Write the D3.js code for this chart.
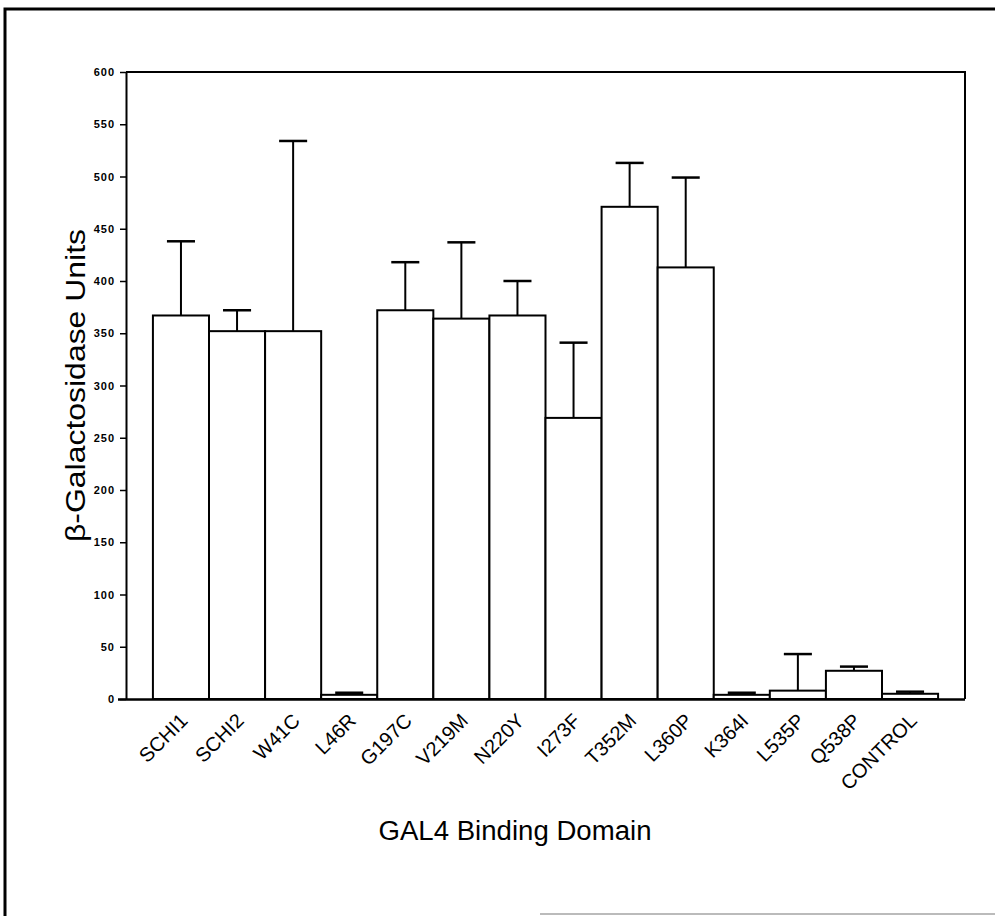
<!DOCTYPE html>
<html>
<head>
<meta charset="utf-8">
<script src="https://cdn.jsdelivr.net/npm/d3@7"></script>
<style>
  body { margin: 0; background: #fff; }
  svg { display: block; }
</style>
</head>
<body>
<div id="chart"></div>
<script>
// Values
const categories = ['SCHI1', 'SCHI2', 'W41C', 'L46R', 'G197C', 'V219M', 'N220Y',
                    'I273F', 'T352M', 'L360P', 'K364I', 'L535P', 'Q538P', 'CONTROL'];
const means = [367, 352, 352, 4, 372, 364, 367, 269, 471, 413, 4, 8, 27, 5];
const errTops = [438, 372, 534, 6, 418, 437, 400, 341, 513, 499, 6, 43, 31, 7];
const yTicks = [0, 50, 100, 150, 200, 250, 300, 350, 400, 450, 500, 550, 600];

const width = 995, height = 916;
const margin = { top: 72, right: 30, bottom: 217, left: 126 };
const FONT = '"Liberation Sans", Arial, sans-serif';

const data = categories.map((c, i) => ({ name: c, mean: means[i], top: errTops[i] }));

const svg = d3.select('#chart')
    .append('svg')
    .attr('width', width)
    .attr('height', height);

// Outer frame
svg.append('path')
    .attr('d', `M5,916 L5,9 L995,9`)
    .attr('fill', 'none')
    .attr('stroke', '#000')
    .attr('stroke-width', 3);
svg.append('line')
    .attr('x1', 540).attr('x2', 995)
    .attr('y1', 914).attr('y2', 914)
    .attr('stroke', '#bbb')
    .attr('stroke-width', 2);

const x = d3.scaleBand()
    .domain(categories)
    .range([margin.left, width - margin.right])
    .paddingInner(0)
    .paddingOuter(0.48);

const y = d3.scaleLinear()
    .domain([0, 600])
    .range([height - margin.bottom, margin.top]);

const x0 = x.range()[0], x1 = x.range()[1];
const y0 = y(0), yTop = y(600);

// Plot box (top and right edges)
svg.append('path')
    .attr('d', `M${x0},${yTop} L${x1},${yTop} L${x1},${y0}`)
    .attr('fill', 'none')
    .attr('stroke', '#000')
    .attr('stroke-width', 2);

// Error bars (upper only)
const capW = x.bandwidth() / 2;
const err = svg.append('g').attr('class', 'errors');
err.selectAll('line.stem')
    .data(data)
    .join('line')
    .attr('class', 'stem')
    .attr('x1', d => x(d.name) + x.bandwidth() / 2)
    .attr('x2', d => x(d.name) + x.bandwidth() / 2)
    .attr('y1', d => y(d.mean))
    .attr('y2', d => y(d.top))
    .attr('stroke', '#000')
    .attr('stroke-width', 2);
err.selectAll('line.cap')
    .data(data)
    .join('line')
    .attr('class', 'cap')
    .attr('x1', d => x(d.name) + x.bandwidth() / 2 - capW / 2)
    .attr('x2', d => x(d.name) + x.bandwidth() / 2 + capW / 2)
    .attr('y1', d => y(d.top))
    .attr('y2', d => y(d.top))
    .attr('stroke', '#000')
    .attr('stroke-width', 2.5);

// Bars
svg.append('g')
    .selectAll('rect')
    .data(data)
    .join('rect')
    .attr('x', d => x(d.name))
    .attr('y', d => y(d.mean))
    .attr('width', x.bandwidth())
    .attr('height', d => y0 - y(d.mean))
    .attr('fill', '#fff')
    .attr('stroke', '#000')
    .attr('stroke-width', 2);

// Y axis
const yAxis = svg.append('g')
    .attr('transform', `translate(${x0},0)`)
    .call(d3.axisLeft(y).tickValues(yTicks).tickSize(6).tickPadding(5).tickSizeOuter(0));
yAxis.select('.domain').attr('stroke-width', 2);
yAxis.selectAll('.tick line').attr('stroke-width', 1.5);
yAxis.selectAll('.tick text')
    .style('font-family', FONT)
    .style('font-size', '11px')
    .style('font-weight', 'bold')
    .style('letter-spacing', '1px')
    .attr('fill', '#000');

// X axis
const xAxis = svg.append('g')
    .attr('transform', `translate(0,${y0})`)
    .call(d3.axisBottom(x).tickSize(0).tickSizeOuter(0).tickFormat(''));
xAxis.select('.domain').attr('stroke-width', 2.5)
    .attr('d', `M${x0 - 8},0.5H${x1}`);

// Category labels, rotated
svg.append('g')
    .selectAll('text')
    .data(categories)
    .join('text')
    .attr('transform', d => `translate(${x(d) + x.bandwidth() / 2 + 8},${y0 + 23}) rotate(-45)`)
    .attr('text-anchor', 'end')
    .style('font-family', FONT)
    .style('font-size', '20px')
    .text(d => d);

// Axis titles
svg.append('text')
    .attr('transform', `translate(85,${(y0 + yTop) / 2}) rotate(-90)`)
    .attr('text-anchor', 'middle')
    .attr('textLength', 313)
    .attr('lengthAdjust', 'spacingAndGlyphs')
    .style('font-family', FONT)
    .style('font-size', '27px')
    .text('β-Galactosidase Units');

svg.append('text')
    .attr('x', 515)
    .attr('y', 840)
    .attr('text-anchor', 'middle')
    .attr('textLength', 273)
    .attr('lengthAdjust', 'spacingAndGlyphs')
    .style('font-family', FONT)
    .style('font-size', '27px')
    .text('GAL4 Binding Domain');
</script>
</body>
</html>
